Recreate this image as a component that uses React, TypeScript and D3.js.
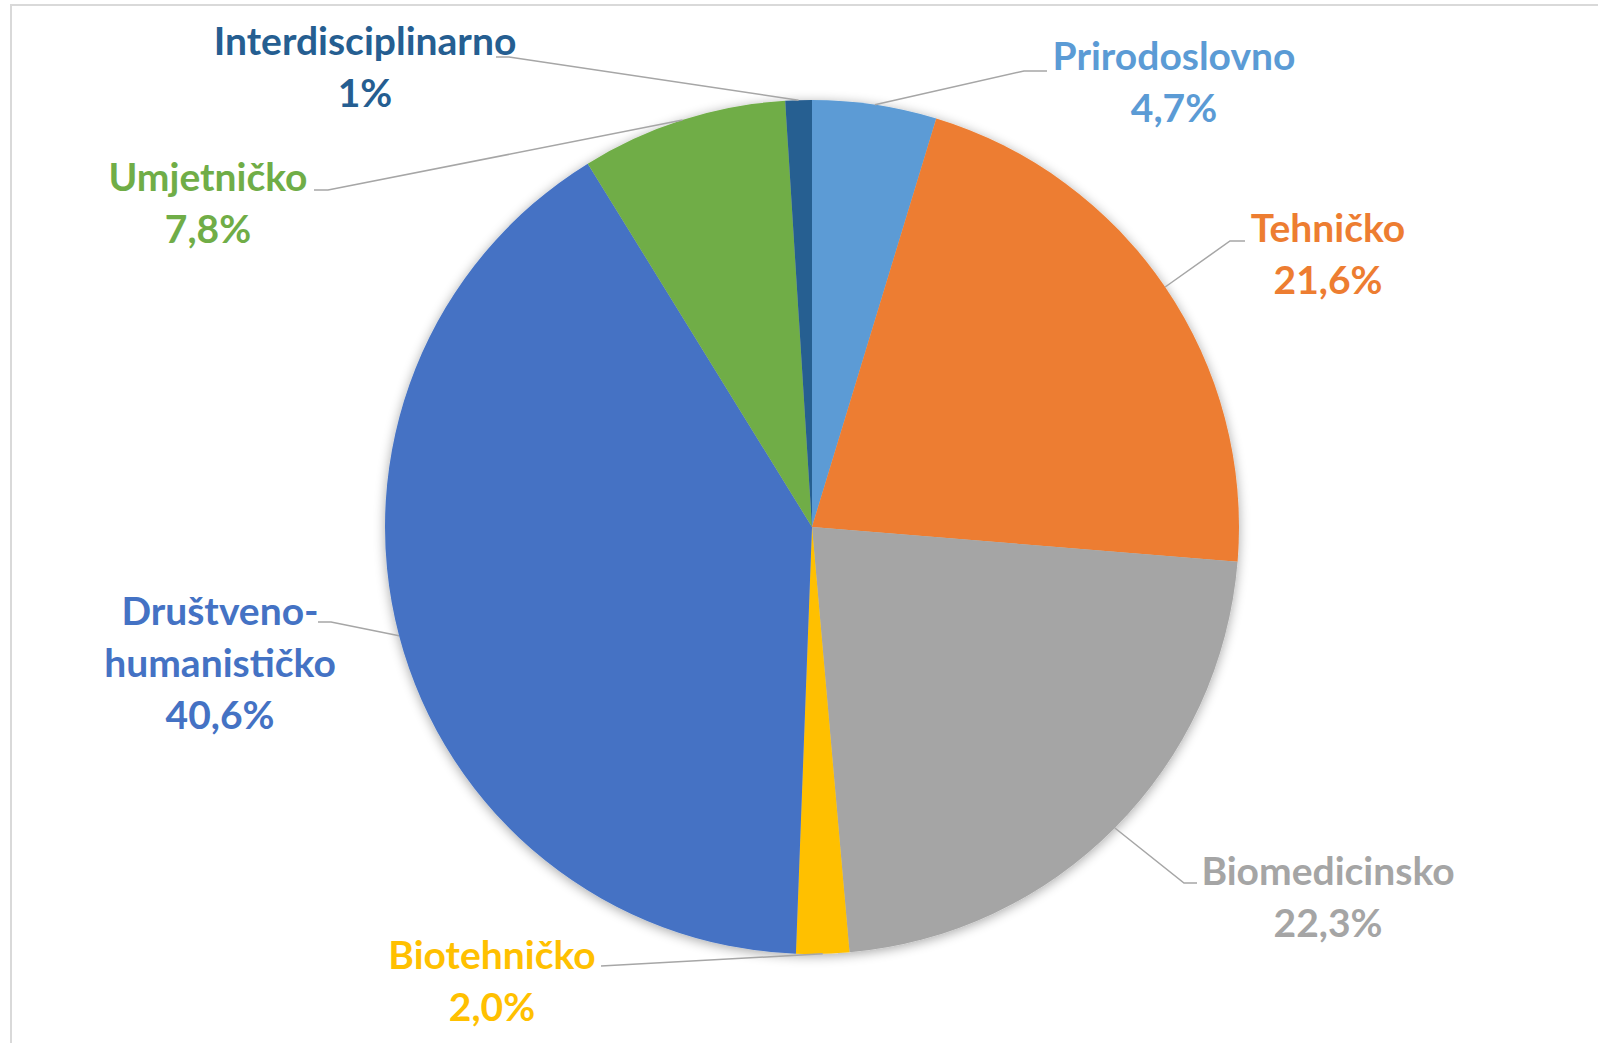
import React from "react";
import * as d3 from "d3";

const categories = [
  "Prirodoslovno",
  "Tehničko",
  "Biomedicinsko",
  "Biotehničko",
  "Društveno-humanističko",
  "Umjetničko",
  "Interdisciplinarno",
];
const values = [4.7, 21.6, 22.3, 2.0, 40.6, 7.8, 1.0];
const valueLabels = ["4,7%", "21,6%", "22,3%", "2,0%", "40,6%", "7,8%", "1%"];
const nameLines = [
  ["Prirodoslovno"],
  ["Tehničko"],
  ["Biomedicinsko"],
  ["Biotehničko"],
  ["Društveno-", "humanističko"],
  ["Umjetničko"],
  ["Interdisciplinarno"],
];
const colors = ["#5B9BD5", "#ED7D31", "#A5A5A5", "#FFC000", "#4472C4", "#70AD47", "#255E91"];

// label layout: center x, first line y, elbow start x, elbow end x, elbow y
const labelLayout = [
  { x: 1174, y: 55, ex1: 1047, ex2: 1024, ey: 71 },
  { x: 1328, y: 226.5, ex1: 1245, ex2: 1230, ey: 241 },
  { x: 1328, y: 869.5, ex1: 1197, ex2: 1184, ey: 883 },
  { x: 492, y: 953.5, ex1: 601, ex2: 601, ey: 966 },
  { x: 220, y: 609.5, ex1: 318, ex2: 331, ey: 622 },
  { x: 208, y: 175.5, ex1: 314, ex2: 328, ey: 190 },
  { x: 365, y: 39.5, ex1: 496, ex2: 509, ey: 57 },
];

const W = 1598;
const H = 1043;
const cx = 812;
const cy = 527;
const R = 427;
const lineH = 52;

export default function App() {
  const pie = d3.pie<number>().sort(null).value((d) => d);
  const arcs = pie(values);
  const arc = d3.arc<d3.PieArcDatum<number>>().innerRadius(0).outerRadius(R);
  const edge = d3.arc<d3.PieArcDatum<number>>().innerRadius(R).outerRadius(R);

  return (
    <svg
      width={W}
      height={H}
      style={{ position: "absolute", left: 0, top: 0, background: "#fff" }}
    >
      <defs>
        <filter id="shadow" x="-20%" y="-20%" width="140%" height="140%">
          <feGaussianBlur in="SourceAlpha" stdDeviation="6" />
          <feOffset dx="0" dy="2" result="blur" />
          <feComponentTransfer>
            <feFuncA type="linear" slope="0.35" />
          </feComponentTransfer>
          <feMerge>
            <feMergeNode />
            <feMergeNode in="SourceGraphic" />
          </feMerge>
        </filter>
      </defs>
      <rect x={11} y={5} width={W} height={H} fill="#fff" stroke="#D9D9D9" strokeWidth={2} />
      <g transform={`translate(${cx},${cy})`} filter="url(#shadow)">
        {arcs.map((a, i) => (
          <path key={categories[i]} d={arc(a) || ""} fill={colors[i]} />
        ))}
      </g>
      {arcs.map((a, i) => {
        const [px, py] = edge.centroid(a);
        const L = labelLayout[i];
        const pts: [number, number][] = [
          [L.ex1, L.ey],
          [L.ex2, L.ey],
          [cx + px, cy + py],
        ];
        return (
          <path
            key={"l" + i}
            d={d3.line()(pts) || ""}
            fill="none"
            stroke="#A6A6A6"
            strokeWidth={1.5}
          />
        );
      })}
      {arcs.map((a, i) => {
        const L = labelLayout[i];
        const lines = [...nameLines[i], valueLabels[i]];
        return (
          <text
            key={"t" + i}
            fill={colors[i]}
            fontFamily="Lato, 'Open Sans', sans-serif"
            fontWeight="bold"
            fontSize={39}
            textAnchor="middle"
          >
            {lines.map((s, j) => (
              <tspan key={j} x={L.x} y={L.y + j * lineH} dominantBaseline="central">
                {s}
              </tspan>
            ))}
          </text>
        );
      })}
    </svg>
  );
}
